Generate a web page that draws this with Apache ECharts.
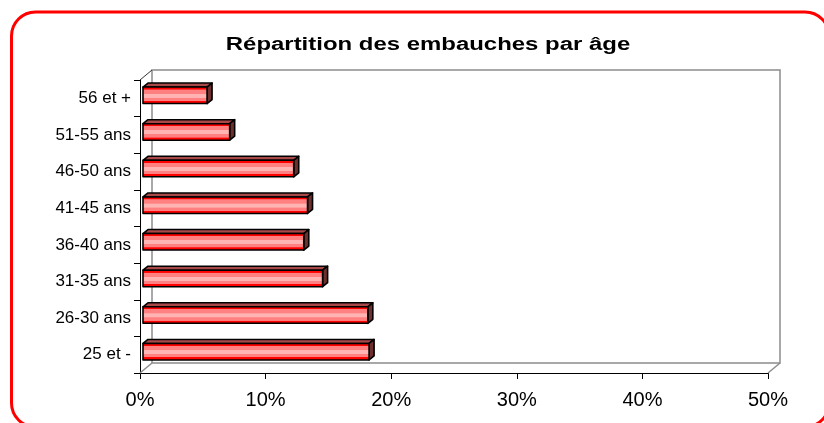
<!DOCTYPE html>
<html>
<head>
<meta charset="utf-8">
<script src="https://cdn.jsdelivr.net/npm/echarts@6/dist/echarts.min.js"></script>
<style>
  html, body { margin: 0; padding: 0; background: #ffffff; }
  #chart { width: 824px; height: 423px; }
</style>
</head>
<body>
<div id="chart"></div>
<script>
// Age brackets, listed bottom to top as the category axis stacks them
const categories = ['25 et -', '26-30 ans', '31-35 ans', '36-40 ans', '41-45 ans', '46-50 ans', '51-55 ans', '56 et +'];
// Share of hires per bracket, in percent
const shares = [18.0, 17.9, 14.3, 12.8, 13.1, 12.0, 6.9, 5.1];
// Value axis ticks
const xTicks = [0, 10, 20, 30, 40, 50];

const TITLE = 'Répartition des embauches par âge';
const FONT = '"Liberation Sans", Arial, sans-serif';

// Front plane of the 3D box and the depth offset of its back wall
const FRONT = { left: 140, top: 80, right: 56, bottom: 50 };
const DEPTH = { dx: 12, dy: -10 };
const W = 824, H = 423;

// Bars sit a little inside the box and have their own small depth
const BAR_SHIFT = { dx: 3, dy: -3 };
const BAR_DEPTH = { dx: 5, dy: -4 };
const BAR_RATIO = 0.45;

const frontGradient = new echarts.graphic.LinearGradient(0, 0, 0, 1, [
  { offset: 0.00, color: '#ff0000' },
  { offset: 0.17, color: '#ff0000' },
  { offset: 0.19, color: '#ff8080' },
  { offset: 0.40, color: '#ff8080' },
  { offset: 0.42, color: '#ffb3b3' },
  { offset: 0.62, color: '#ffb3b3' },
  { offset: 0.64, color: '#ff8080' },
  { offset: 0.80, color: '#ff8080' },
  { offset: 0.82, color: '#ff0000' },
  { offset: 1.00, color: '#ff0000' }
]);

function renderPrism(params, api) {
  const v = api.value(0);
  const cat = api.value(1);
  const p0 = api.coord([0, cat]);
  const p1 = api.coord([v, cat]);
  const h = api.size([0, 1])[1] * BAR_RATIO;
  const x0 = p0[0] + BAR_SHIFT.dx;
  const x1 = p1[0] + BAR_SHIFT.dx;
  const yc = p0[1] + BAR_SHIFT.dy;
  const top = yc - h / 2;
  const bot = yc + h / 2;
  const dx = BAR_DEPTH.dx, dy = BAR_DEPTH.dy;
  const edge = { stroke: '#000000', lineWidth: 1.6, lineJoin: 'round' };
  return {
    type: 'group',
    children: [
      {
        type: 'polygon',
        shape: { points: [[x0, top], [x0 + dx, top + dy], [x1 + dx, top + dy], [x1, top]] },
        style: Object.assign({ fill: '#a84848' }, edge)
      },
      {
        type: 'polygon',
        shape: { points: [[x1, top], [x1 + dx, top + dy], [x1 + dx, bot + dy], [x1, bot]] },
        style: Object.assign({ fill: '#6e2f2f' }, edge)
      },
      {
        type: 'rect',
        shape: { x: x0, y: top, width: x1 - x0, height: h },
        style: Object.assign({ fill: frontGradient }, edge)
      }
    ]
  };
}

const chart = echarts.init(document.getElementById('chart'), null, { renderer: 'canvas' });

const backLeft = FRONT.left + DEPTH.dx;
const backTop = FRONT.top + DEPTH.dy;
const backRight = FRONT.right - DEPTH.dx;
const backBottom = FRONT.bottom - DEPTH.dy;
const frontRightX = W - FRONT.right;
const frontBottomY = H - FRONT.bottom;

chart.setOption({
  backgroundColor: '#ffffff',
  animation: false,
  grid: [
    { left: FRONT.left, top: FRONT.top, right: FRONT.right, bottom: FRONT.bottom, containLabel: false },
    {
      left: backLeft, top: backTop, right: backRight, bottom: backBottom,
      show: true, borderColor: '#8c8c8c', borderWidth: 1.5, backgroundColor: 'transparent', z: 0
    }
  ],
  xAxis: [
    {
      type: 'value', gridIndex: 0,
      min: xTicks[0], max: xTicks[xTicks.length - 1], interval: 10,
      axisLine: { show: true, lineStyle: { color: '#000000', width: 1 } },
      axisTick: { show: true, length: 6, lineStyle: { color: '#000000' } },
      splitLine: { show: false },
      axisLabel: { formatter: '{value}%', fontFamily: FONT, fontSize: 20, color: '#000000', margin: 17 }
    },
    { type: 'value', gridIndex: 1, min: 0, max: 50, show: false, splitLine: { show: false } }
  ],
  yAxis: [
    {
      type: 'category', gridIndex: 0, data: categories,
      axisLine: { show: true, lineStyle: { color: '#000000', width: 1 } },
      axisTick: { show: true, length: 6, lineStyle: { color: '#000000' } },
      splitLine: { show: false },
      axisLabel: { fontFamily: FONT, fontSize: 17, color: '#000000', margin: 9 }
    },
    { type: 'category', gridIndex: 1, data: categories, show: false }
  ],
  graphic: [
    {
      type: 'rect', z: 0,
      shape: { x: 11.5, y: 12, width: 817.5, height: 415, r: 24 },
      style: { fill: 'none', stroke: '#ff0000', lineWidth: 3 }
    },
    {
      // chart title, drawn in the broad lettering of the sheet heading
      type: 'text', z: 10,
      x: 428, y: 45, scaleX: 1.33,
      style: {
        text: TITLE, x: 0, y: 0,
        font: 'bold 18px ' + FONT,
        fill: '#000000', align: 'center', verticalAlign: 'middle'
      }
    },
    {
      type: 'line', z: 1,
      shape: { x1: FRONT.left, y1: FRONT.top, x2: backLeft, y2: backTop },
      style: { stroke: '#333333', lineWidth: 1 }
    },
    {
      type: 'line', z: 1,
      shape: { x1: FRONT.left, y1: frontBottomY, x2: backLeft, y2: frontBottomY + DEPTH.dy },
      style: { stroke: '#8c8c8c', lineWidth: 1.5 }
    },
    {
      type: 'line', z: 1,
      shape: { x1: frontRightX, y1: frontBottomY, x2: frontRightX + DEPTH.dx, y2: frontBottomY + DEPTH.dy },
      style: { stroke: '#8c8c8c', lineWidth: 1.5 }
    }
  ],
  series: [
    {
      type: 'custom',
      xAxisIndex: 0, yAxisIndex: 0,
      z: 5,
      renderItem: renderPrism,
      encode: { x: 0, y: 1 },
      data: shares.map((v, i) => [v, i])
    }
  ]
});
</script>
</body>
</html>
